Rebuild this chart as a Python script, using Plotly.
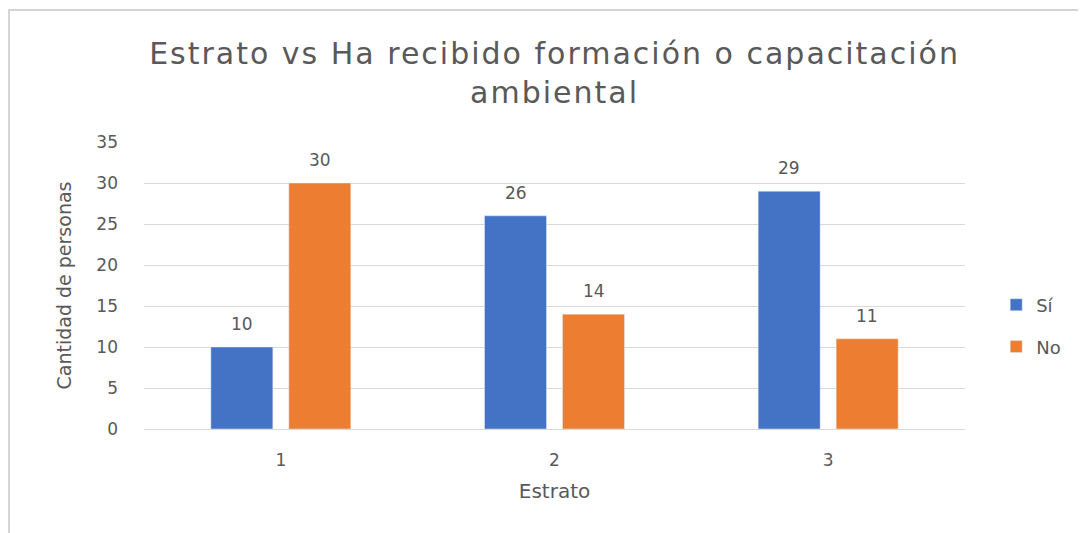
import plotly.graph_objects as go

# Datos del gráfico
estratos = ['1', '2', '3']
si = [10, 26, 29]
no = [30, 14, 11]
y_ticks = [0, 5, 10, 15, 20, 25, 30, 35]

gris = '#595959'
fuente = 'DejaVu Sans'

fig = go.Figure()
fig.add_trace(go.Bar(
    x=estratos, y=si, name='Sí',
    marker=dict(color='#4472C4'), legend='legend'
))
fig.add_trace(go.Bar(
    x=estratos, y=no, name='No',
    marker=dict(color='#ED7D31'), legend='legend2'
))

# etiquetas de datos encima de cada barra (x = índice de categoría)
anotaciones = []
for serie, desplaz in ((si, -39), (no, 39)):
    for i, val in enumerate(serie):
        anotaciones.append(dict(
            x=i, y=val, text=str(val), showarrow=False,
            xshift=desplaz, yshift=23, yanchor='middle',
            font=dict(size=17, color=gris, family=fuente)
        ))

titulo = ('<span style="letter-spacing:2px">Estrato vs Ha recibido formación o capacitación</span>'
          '<br><span style="letter-spacing:2px">ambiental</span>')

fig.update_layout(
    width=1078, height=525,
    paper_bgcolor='white', plot_bgcolor='white',
    font=dict(family=fuente, color=gris, size=17),
    title=dict(
        text=titulo,
        x=0.507, xanchor='center', y=0.893, yanchor='middle',
        font=dict(size=30, color=gris, family=fuente)
    ),
    margin=dict(l=136, r=121, t=134, b=104),
    barmode='group', bargap=0.43, bargroupgap=0.205,
    showlegend=True,
    legend=dict(x=1.038, y=0.432, xanchor='left', yanchor='middle',
                font=dict(size=18, color=gris), itemwidth=30),
    legend2=dict(x=1.038, y=0.286, xanchor='left', yanchor='middle',
                 font=dict(size=18, color=gris), itemwidth=30),
    annotations=anotaciones,
    shapes=[
        dict(type='line', xref='paper', yref='paper',
             x0=-0.1656, x1=1.2, y0=1.46, y1=1.46,
             line=dict(color='#d4d4d4', width=2)),
        dict(type='line', xref='paper', yref='paper',
             x0=-0.1644, x1=-0.1644, y0=1.46, y1=-0.4,
             line=dict(color='#d4d4d4', width=2)),
    ],
)
fig.update_xaxes(
    title=dict(text='Estrato', font=dict(size=20, color=gris), standoff=14),
    showline=True, linecolor='#d9d9d9', linewidth=1,
    ticks='', tickfont=dict(size=17, color=gris),
    ticklabelstandoff=16,
    range=[-0.5, 2.5]
)
fig.update_yaxes(
    title=dict(text='Cantidad de personas', font=dict(size=19, color=gris), standoff=19),
    range=[0, 35], tickvals=y_ticks,
    showgrid=True, gridcolor='#d9d9d9', gridwidth=1,
    zeroline=False, ticks='', tickfont=dict(size=17, color=gris),
    ticklabelstandoff=25
)

fig.write_html('out.html')
